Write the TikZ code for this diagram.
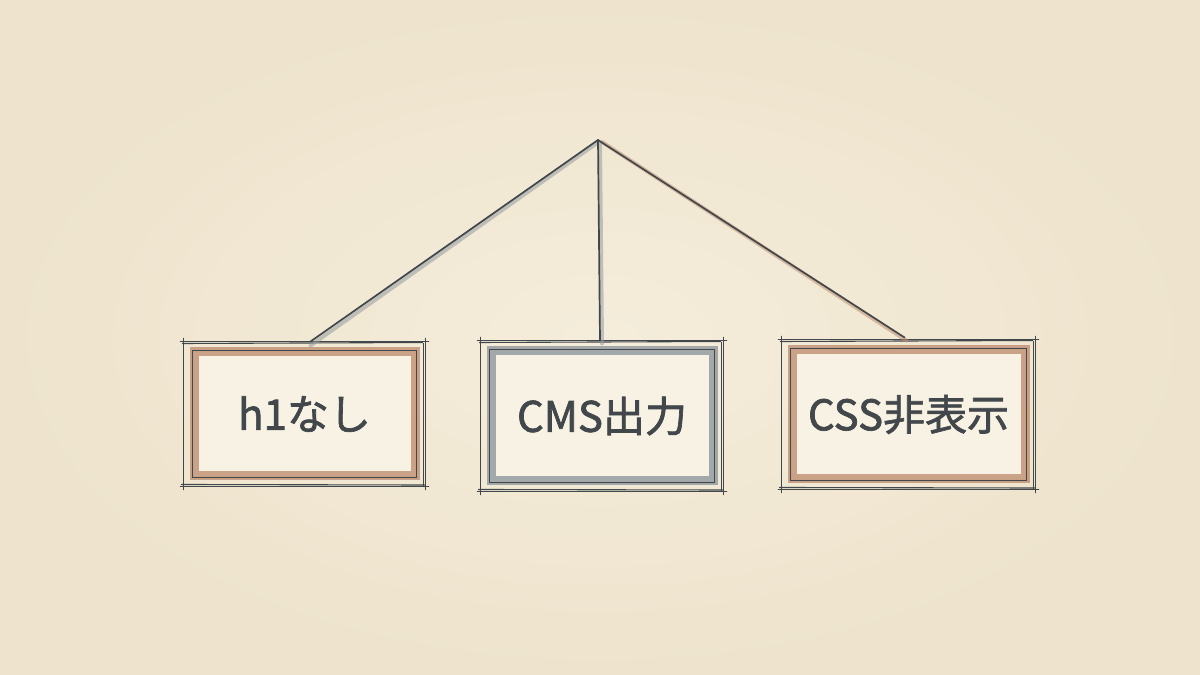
\documentclass[tikz,border=0pt]{standalone}
\usepackage{fontspec}
\setmainfont{Noto Sans CJK JP}
\newfontfamily\lblfont[FakeBold=1.6]{Noto Sans CJK JP}
\usetikzlibrary{calc}
\definecolor{paper}{HTML}{F5EDDB}
\definecolor{paperedge}{HTML}{EDE2CA}
\definecolor{boxfill}{HTML}{F8F2E4}
\definecolor{ink}{HTML}{41474A}
\definecolor{brownwash}{HTML}{BE8F72}
\definecolor{graywash}{HTML}{959CA0}
\tikzset{
  x=1pt,y=1pt,
  inkline/.style={draw=ink, line width=1.7pt, line cap=round},
  washbox/.style={fill=boxfill, line width=9pt, minimum width=#1},
  label/.style={text=ink, font=\lblfont\fontsize{42}{44}\selectfont},
  washline/.style={line width=4pt, line cap=round, opacity=0.55},
}
\newcommand{\sketchbox}[1]{%
  \draw[inkline] ($(#1.north west)+(-9,6)$) -- ($(#1.north east)+(9,6)$);
  \draw[inkline] ($(#1.south west)+(-9,-6)$) -- ($(#1.south east)+(9,-6)$);
  \draw[inkline] ($(#1.north west)+(-6,9)$) -- ($(#1.south west)+(-6,-9)$);
  \draw[inkline] ($(#1.north east)+(6,9)$) -- ($(#1.south east)+(6,-9)$);
  \draw[inkline,line width=1.1pt] ($(#1.north west)+(-7,4)$) -- ($(#1.north east)+(3,5)$);
  \draw[inkline,line width=1.1pt] ($(#1.north east)+(4,4)$) -- ($(#1.south east)+(4,-6)$);
  \draw[inkline,line width=1.1pt] ($(#1.south west)+(-8,-4)$) -- ($(#1.south east)+(5,-4.5)$);
  \draw[inkline] ($(#1.north west)+(3,-3)$) rectangle ($(#1.south east)+(-3,3)$);
}
\begin{document}
\begin{tikzpicture}
\useasboundingbox (0,0) rectangle (1200,675);
\fill[paper] (0,0) rectangle (1200,675);
\shade[inner color=paper, outer color=paperedge, opacity=0.8] (0,0) rectangle (1200,675);

\coordinate (apex) at (598,535);

\node[washbox=221pt, minimum height=124pt, draw=brownwash, draw opacity=0.8] (a) at (304.5,261) {};
\node[washbox=222pt, minimum height=130pt, draw=graywash, draw opacity=0.85] (b) at (602,259) {};
\node[washbox=233pt, minimum height=129pt, draw=brownwash, draw opacity=0.8] (c) at (908.5,260.5) {};

\node[label] (ta) at (a.center) {h1なし};
\node[label] (tb) at (b.center) {CMS出力};
\node[label] (tc) at (c.center) {CSS非表示};

\sketchbox{a}
\sketchbox{b}
\sketchbox{c}

% connectors
\draw[washline, draw=graywash] ($(apex)+(-1,-3)$) -- ($(a.north)+(6,2)$);
\draw[washline, draw=graywash] ($(apex)+(2,-3)$) -- ($(b.north)+(0,3)$);
\draw[washline, draw=brownwash] ($(apex)+(4,-2)$) -- ($(c.north)+(-2,5)$);
\draw[inkline] (apex) -- ($(a.north)+(6,6)$);
\draw[inkline] (apex) -- ($(b.north)+(-2,6)$);
\draw[inkline] (apex) -- ($(c.north)+(-4,8)$);
\end{tikzpicture}
\end{document}
